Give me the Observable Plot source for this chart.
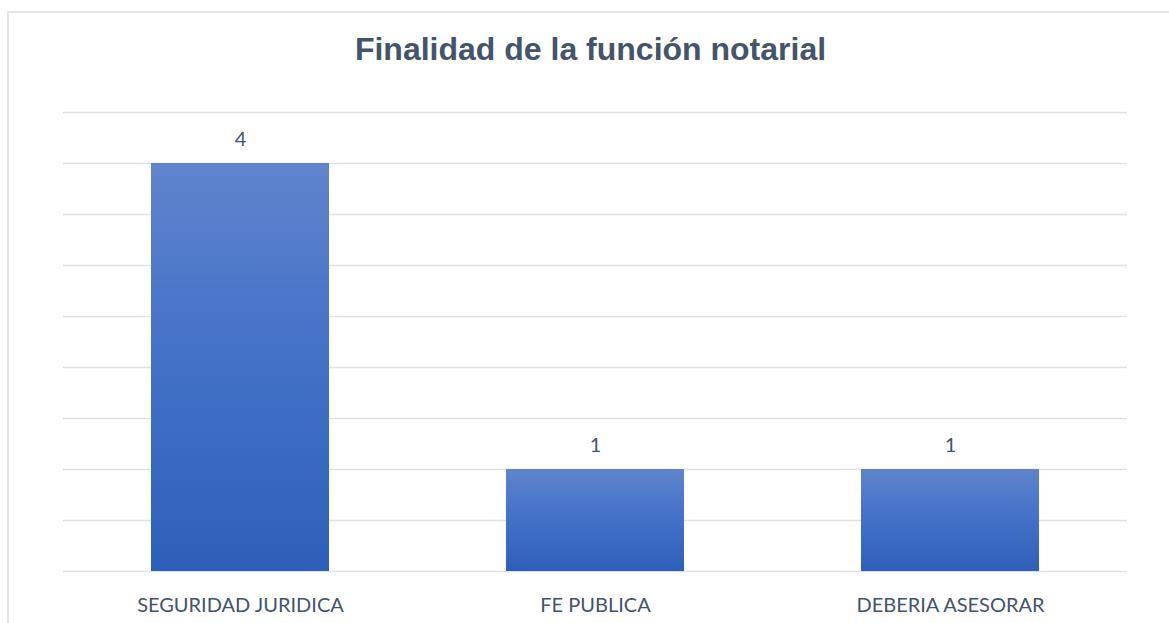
<!DOCTYPE html>
<html>
<head>
<meta charset="utf-8">
<script src="https://cdn.jsdelivr.net/npm/d3@7"></script>
<script src="https://cdn.jsdelivr.net/npm/@observablehq/plot@0.6"></script>
<style>
  html, body { margin: 0; padding: 0; background: #fff; }
  #wrap { position: relative; width: 1169px; height: 623px; overflow: hidden; background: #fff; }
  #frame { position: absolute; left: 7px; top: 11px; width: 1200px; height: 700px;
           border-left: 2px solid #e1e5eb; border-top: 2px solid #e1e5eb; }
  #title { position: absolute; left: 0; top: 33px; width: 1181px; text-align: center;
           font-family: "Liberation Sans", Arial, sans-serif; font-weight: bold; font-size: 32px;
           line-height: 32px; color: #44546a; }
  #chart { position: absolute; left: 0; top: 100px; }
</style>
</head>
<body>
<div id="wrap">
  <div id="frame"></div>
  <div id="title">Finalidad de la función notarial</div>
  <div id="chart"></div>
</div>
<script>
const categories = ["SEGURIDAD JURIDICA", "FE PUBLICA", "DEBERIA ASESORAR"];
const values = [4, 1, 1];
const gridTicks = [0, 0.5, 1, 1.5, 2, 2.5, 3, 3.5, 4, 4.5];

const data = categories.map((c, i) => ({category: c, value: values[i]}));

const plot = Plot.plot({
  width: 1169,
  height: 523,
  marginTop: 12,
  marginBottom: 52,
  marginLeft: 63,
  marginRight: 42,
  style: {fontFamily: "Lato, 'Open Sans', sans-serif", color: "#44546a", background: "transparent"},
  x: {domain: categories, paddingInner: 0.5, paddingOuter: 0.245, label: null},
  y: {domain: [0, 4.5], axis: null},
  marks: [
    Plot.ruleY(gridTicks, {stroke: "#dde1e7", strokeWidth: 1.5, strokeOpacity: 1}),
    Plot.barY(data, {x: "category", y: "value", fill: "url(#barGrad)"}),
    Plot.text(data, {x: "category", y: "value", text: d => String(d.value), dy: -24, fontSize: 20, fill: "#44546a"}),
    Plot.axisX({tickSize: 0, tickPadding: 26, fontSize: 20, fill: "#44546a", label: null})
  ]
});

const svg = d3.select(plot);
const defs = svg.insert("defs", ":first-child");
const g = defs.append("linearGradient").attr("id", "barGrad").attr("x1", 0).attr("y1", 0).attr("x2", 0).attr("y2", 1);
g.append("stop").attr("offset", "0%").attr("stop-color", "#6084cc");
g.append("stop").attr("offset", "45%").attr("stop-color", "#4472c9");
g.append("stop").attr("offset", "100%").attr("stop-color", "#2e5fb8");

document.getElementById("chart").appendChild(plot);
</script>
</body>
</html>
